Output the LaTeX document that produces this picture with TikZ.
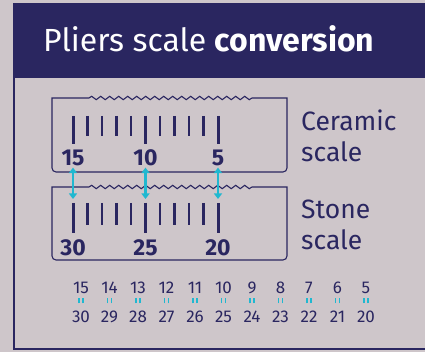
\documentclass[tikz,border=0pt]{standalone}
\usepackage{fontspec}
\setmainfont{Fira Sans}
\usetikzlibrary{arrows.meta, decorations.pathmorphing}
\definecolor{mynavy}{RGB}{42,38,96}
\definecolor{mycyan}{RGB}{32,184,208}
\definecolor{mybg}{RGB}{206,198,202}
\tikzset{
  scalebox/.style={draw=mynavy, line width=1.1pt},
  wave/.style={decoration={snake, amplitude=1.7pt, segment length=9pt}},
  minortick/.style={draw=mynavy, line width=2.7pt},
  majortick/.style={draw=mynavy, line width=3pt},
  ticklabel/.style={text=mynavy, inner sep=0pt, anchor=base,
    font=\fontsize{23}{23}\selectfont\bfseries},
  sidelabel/.style={text=mynavy, inner sep=0pt, anchor=base west, align=left,
    font=\fontsize{26.5}{31}\selectfont},
  tablenum/.style={text=mynavy, inner sep=0pt, anchor=base,
    font=\fontsize{17}{17}\selectfont},
  eqbar/.style={draw=mycyan, line width=1.6pt},
  arrowc/.style={{Triangle[length=5.5pt,width=8pt]}-{Triangle[length=5.5pt,width=8pt]},
    line width=2.4pt, color=mycyan, shorten <=1pt}
}

\begin{document}
\begin{tikzpicture}[x=1pt, y=-1pt]
  \useasboundingbox (0,0) rectangle (425,352);
  \fill[mybg] (0,0) rectangle (425,352);

  % Header and frame
  \fill[mynavy] (13,3) rectangle (425,78);
  \draw[mynavy, line width=2pt] (14,78) -- (14,349) -- (425,349);
  \node[text=white, inner sep=0pt, anchor=base west,
    font=\fontsize{32}{32}\selectfont] (title) at (43,52)
    {Pliers scale \textbf{conversion}};

  % Ceramic scale
  \draw[scalebox] (287,98) -- (252,98) decorate[wave] {-- (85,98)} -- (52,98)
    [rounded corners=4pt] -- (52,172) -- (287,172) [sharp corners] -- cycle;
  \foreach \i in {0,...,10} {
    \draw[minortick] (73+14.5*\i,116) -- (73+14.5*\i,136);
  }
  \foreach \i in {0,5,10} {
    \draw[majortick] (73+14.5*\i,116) -- (73+14.5*\i,144);
  }
  \node[ticklabel] (c15) at (73,166) {15};
  \node[ticklabel] (c10) at (145.5,166) {10};
  \node[ticklabel] (c5) at (218,166) {5};
  \node[sidelabel] (ceramic) at (301,162) {Ceramic\\scale};

  % Stone scale
  \draw[scalebox] (287,187) -- (252,187) decorate[wave] {-- (85,187)} -- (52,187)
    [rounded corners=4pt] -- (52,260) -- (287,260) [sharp corners] -- cycle;
  \foreach \i in {0,...,10} {
    \draw[minortick] (73+14.5*\i,203) -- (73+14.5*\i,225);
  }
  \foreach \i in {0,5,10} {
    \draw[majortick] (73+14.5*\i,203) -- (73+14.5*\i,233);
  }
  \node[ticklabel] (s30) at (73,255) {30};
  \node[ticklabel] (s25) at (145.5,255) {25};
  \node[ticklabel] (s20) at (218,255) {20};
  \node[sidelabel] (stone) at (301,250) {Stone\\scale};

  % Arrows between the scales
  \coordinate (t30) at (73,199);
  \coordinate (t25) at (145.5,199);
  \coordinate (t20) at (218,199);
  \draw[arrowc] (c15.south) -- (t30);
  \draw[arrowc] (c10.south) -- (t25);
  \draw[arrowc] (c5.south) -- (t20);

  % Conversion table
  \foreach \n [count=\k from 0] in {15,14,...,5} {
    \pgfmathtruncatemacro{\m}{\n+15}
    \node[tablenum] (top\n) at (81+28.5*\k,293) {\n};
    \coordinate (eq\n) at (81+28.5*\k,300.5);
    \draw[eqbar] ([xshift=-1.9pt,yshift=-2.8pt]eq\n) -- ([xshift=-1.9pt,yshift=2.8pt]eq\n);
    \draw[eqbar] ([xshift=1.9pt,yshift=-2.8pt]eq\n) -- ([xshift=1.9pt,yshift=2.8pt]eq\n);
    \node[tablenum] (bot\n) at (81+28.5*\k,322) {\m};
  }
\end{tikzpicture}
\end{document}
